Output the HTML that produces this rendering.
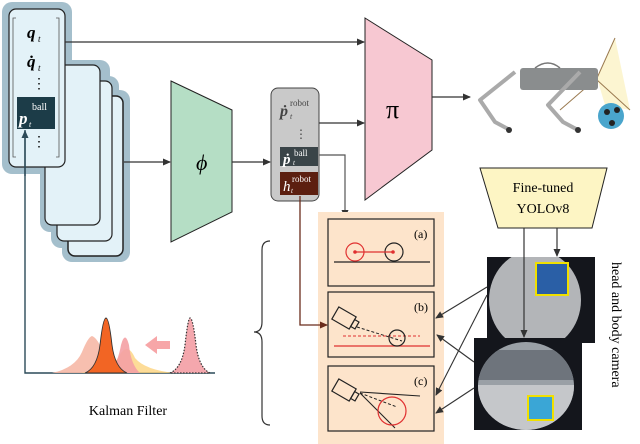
<!DOCTYPE html>
<html><head><meta charset="utf-8"><style>
html,body{margin:0;padding:0;background:#fff}
svg{display:block}
text{font-family:"Liberation Serif",serif}
</style></head><body>
<svg width="640" height="444" viewBox="0 0 640 444" xmlns="http://www.w3.org/2000/svg">
<defs>
<marker id="ar" markerWidth="8" markerHeight="8" refX="7" refY="4" orient="auto" markerUnits="userSpaceOnUse"><path d="M0,0.5 L8,4 L0,7.5 Z" fill="#333"/></marker>
<marker id="arb" markerWidth="8" markerHeight="8" refX="7" refY="4" orient="auto" markerUnits="userSpaceOnUse"><path d="M0,0.5 L8,4 L0,7.5 Z" fill="#6b2c1c"/></marker>
<marker id="art" markerWidth="8" markerHeight="8" refX="7" refY="4" orient="auto" markerUnits="userSpaceOnUse"><path d="M0,0.5 L8,4 L0,7.5 Z" fill="#2c4a58"/></marker>
<clipPath id="c1"><rect x="487" y="257" width="108" height="86"/></clipPath>
<clipPath id="c2"><ellipse cx="526" cy="386" rx="48" ry="44"/></clipPath>
</defs>
<rect x="2" y="2" width="70" height="172" rx="10" fill="#a4bfcc"/>
<rect x="40" y="60" width="70" height="172" rx="10" fill="#a4bfcc"/>
<rect x="51" y="76" width="68" height="172" rx="10" fill="#a4bfcc"/>
<rect x="62" y="90" width="68" height="172" rx="10" fill="#a4bfcc"/>
<rect x="68" y="96" width="55" height="160" rx="7" fill="#e3f2f8" stroke="#222" stroke-width="1.5"/>
<rect x="57" y="81" width="55" height="160" rx="7" fill="#e3f2f8" stroke="#222" stroke-width="1.2"/>
<rect x="45" y="65" width="55" height="160" rx="7" fill="#e3f2f8" stroke="#222" stroke-width="1.2"/>
<rect x="9" y="9" width="56" height="158" rx="7" fill="#e3f2f8" stroke="#222" stroke-width="1.2"/>
<path d="M16,18 H13 V157 H16 M56,18 H59 V157 H56" fill="none" stroke="#555" stroke-width="0.8"/>
<text x="27" y="38" font-size="17" font-weight="bold" font-style="italic">q</text><text x="38" y="42" font-size="9" font-style="italic">t</text>
<text x="27" y="67" font-size="17" font-weight="bold" font-style="italic">q̇</text><text x="38" y="71" font-size="9" font-style="italic">t</text>
<text x="32" y="88" font-size="14">⋮</text>
<rect x="17" y="97" width="38" height="32" fill="#1c3c48"/>
<text x="19" y="124" font-size="17" font-weight="bold" font-style="italic" fill="#fff">p</text><text x="29" y="127" font-size="8" fill="#fff" font-style="italic">t</text>
<text x="32" y="110" font-size="10" fill="#fff">ball</text>
<text x="32" y="146" font-size="14">⋮</text>
<line x1="65" y1="42" x2="364" y2="42" stroke="#333" stroke-width="1.3" marker-end="url(#ar)"/>
<line x1="124" y1="162" x2="170" y2="162" stroke="#333" stroke-width="1.3" marker-end="url(#ar)"/>
<polygon points="171,81 232,110 232,212 171,242" fill="#b5dec5" stroke="#222" stroke-width="1"/>
<text x="196" y="170" font-size="22" font-style="italic">ϕ</text>
<line x1="232" y1="162" x2="270" y2="162" stroke="#333" stroke-width="1.3" marker-end="url(#ar)"/>
<rect x="271" y="88" width="48" height="113" rx="7" fill="#c9c9c9" stroke="#444" stroke-width="1"/>
<text x="280" y="116" font-size="16" font-weight="bold" font-style="italic" fill="#444">ṗ</text><text x="290" y="106" font-size="9" fill="#444">robot</text><text x="290" y="119" font-size="8" fill="#444" font-style="italic">t</text>
<text x="295" y="138" font-size="12" fill="#444">⋮</text>
<rect x="280" y="147" width="38" height="19" fill="#3a4448"/>
<text x="283" y="164" font-size="15" font-weight="bold" font-style="italic" fill="#fff">ṗ</text><text x="294" y="156" font-size="9" fill="#fff">ball</text><text x="293" y="165" font-size="7" fill="#fff" font-style="italic">t</text>
<rect x="280" y="172" width="38" height="23" fill="#5c1f10"/>
<text x="283" y="191" font-size="15" font-style="italic" fill="#fff">h</text><text x="292" y="182" font-size="9" fill="#fff">robot</text><text x="291" y="193" font-size="7" fill="#fff" font-style="italic">t</text>
<line x1="319" y1="123" x2="364" y2="123" stroke="#333" stroke-width="1.3" marker-end="url(#ar)"/>
<polyline points="319,155 345,155 345,217" fill="none" stroke="#555" stroke-width="1.2" marker-end="url(#ar)"/>
<polygon points="365,18 432,60 432,150 365,200" fill="#f7c8d2" stroke="#222" stroke-width="1"/>
<text x="386" y="118" font-size="26">π</text>
<line x1="432" y1="97" x2="470" y2="97" stroke="#333" stroke-width="1.3" marker-end="url(#ar)"/>
<polygon points="597,78 615,38 630,110 605,105" fill="#fbf3c6" opacity="0.8"/>
<path d="M597,78 L615,38 M597,78 L560,110 M597,80 L630,110" stroke="#9a7a50" stroke-width="1"/>
<rect x="520" y="68" width="78" height="22" rx="3" fill="#8a8d8e"/>
<path d="M535,68 Q548,58 560,68" fill="none" stroke="#777" stroke-width="1.5"/>
<path d="M515,72 L480,100 L495,122 L510,130 M580,72 L548,105 L563,122 L578,130" fill="none" stroke="#aaa" stroke-width="4" stroke-linejoin="round"/>
<circle cx="509" cy="130" r="3" fill="#333"/><circle cx="578" cy="130" r="3" fill="#333"/>
<circle cx="611" cy="116" r="13" fill="#4aa5cc"/>
<circle cx="607" cy="112" r="3" fill="#222"/><circle cx="617" cy="110" r="3" fill="#222"/><circle cx="612" cy="123" r="3" fill="#222"/>
<polygon points="480,168 607,168 592,228 498,228" fill="#fdf5c4" stroke="#222" stroke-width="1"/>
<text x="543" y="192" font-size="14" text-anchor="middle">Fine-tuned</text>
<text x="543" y="213" font-size="14" text-anchor="middle">YOLOv8</text>
<line x1="557" y1="228" x2="557" y2="256" stroke="#333" stroke-width="1.2" marker-end="url(#ar)"/>
<rect x="487" y="257" width="108" height="86" fill="#14161c"/>
<g clip-path="url(#c1)"><ellipse cx="535" cy="300" rx="46" ry="50" fill="#b3b5b8"/></g>
<rect x="536" y="263" width="32" height="32" fill="#2a5fa6" stroke="#f0e000" stroke-width="2"/>
<line x1="524" y1="228" x2="524" y2="337" stroke="#333" stroke-width="1.2" marker-end="url(#ar)"/>
<rect x="474" y="338" width="108" height="92" fill="#14161c"/>
<g clip-path="url(#c2)"><rect x="474" y="338" width="108" height="92" fill="#9aa0a6"/>
<rect x="474" y="350" width="108" height="30" fill="#6e747c"/>
<rect x="474" y="385" width="108" height="45" fill="#c5c7ca"/></g>
<rect x="528" y="396" width="25" height="24" fill="#3aa6d6" stroke="#f0e000" stroke-width="2"/>
<rect x="318" y="212" width="126" height="232" fill="#fde4cb"/>
<rect x="328" y="219" width="106" height="67" fill="#fde4cb" stroke="#222" stroke-width="1.2"/>
<rect x="328" y="292" width="106" height="65" fill="#fde4cb" stroke="#222" stroke-width="1.2"/>
<rect x="328" y="366" width="106" height="65" fill="#fde4cb" stroke="#222" stroke-width="1.2"/>
<text x="414" y="238" font-size="12">(a)</text>
<text x="414" y="311" font-size="12">(b)</text>
<text x="414" y="385" font-size="12">(c)</text>
<line x1="334" y1="262" x2="430" y2="262" stroke="#222" stroke-width="1.2"/>
<circle cx="355" cy="252" r="9" fill="none" stroke="#e03030" stroke-width="1.2"/>
<circle cx="394" cy="252" r="9" fill="none" stroke="#222" stroke-width="1.2"/>
<line x1="355" y1="252" x2="393" y2="252" stroke="#e03030" stroke-width="1.2"/>
<circle cx="355" cy="252" r="1.8" fill="#e03030"/><circle cx="393" cy="252" r="1.8" fill="#e03030"/>
<g transform="translate(344,318) rotate(30)"><rect x="-10" y="-7" width="20" height="14" fill="none" stroke="#222" stroke-width="1.2"/><rect x="10" y="-4" width="5" height="8" fill="none" stroke="#222" stroke-width="1.2"/></g>
<line x1="357" y1="327" x2="402" y2="341" stroke="#222" stroke-width="1" stroke-dasharray="3,2"/>
<line x1="343" y1="336" x2="420" y2="336" stroke="#e03030" stroke-width="1" stroke-dasharray="3,2"/>
<line x1="334" y1="346" x2="430" y2="346" stroke="#e03030" stroke-width="1.2"/>
<circle cx="397" cy="338" r="8" fill="none" stroke="#222" stroke-width="1.2"/>
<g transform="translate(344,390) rotate(30)"><rect x="-10" y="-7" width="20" height="14" fill="none" stroke="#222" stroke-width="1.2"/><rect x="10" y="-4" width="5" height="8" fill="none" stroke="#222" stroke-width="1.2"/></g>
<line x1="360" y1="392" x2="420" y2="396" stroke="#222" stroke-width="1.1"/>
<line x1="360" y1="393" x2="395" y2="428" stroke="#222" stroke-width="1.1"/>
<line x1="360" y1="393" x2="397" y2="407" stroke="#222" stroke-width="1" stroke-dasharray="3,2"/>
<circle cx="392" cy="411" r="14" fill="none" stroke="#e03030" stroke-width="1.2"/>
<g stroke="#333" stroke-width="1.1" fill="none" marker-end="url(#ar)">
<line x1="487" y1="287" x2="436" y2="318"/>
<line x1="487" y1="295" x2="436" y2="395"/>
<line x1="474" y1="362" x2="437" y2="335"/>
<line x1="474" y1="388" x2="436" y2="413"/>
</g>
<polyline points="300,196 300,325 327,325" fill="none" stroke="#6b2c1c" stroke-width="1.3" marker-end="url(#arb)"/>
<path d="M270,241 Q262,241 262,250 V322 Q262,332 254,332 Q262,332 262,342 V416 Q262,425 270,425" fill="none" stroke="#333" stroke-width="1.2"/>
<text transform="translate(612,262) rotate(90)" font-size="14">head and body camera</text>
<polyline points="25,130 25,373 215,373" fill="none" stroke="#2c4a58" stroke-width="1.4"/>
<line x1="25" y1="176" x2="25" y2="131" stroke="#2c4a58" stroke-width="1.4" marker-end="url(#art)"/>
<path d="M52,373 Q75,368 82,352 Q88,337 92,336 Q98,338 104,355 Q110,370 140,373 Z" fill="#f6b8a6" opacity="0.9"/>
<path d="M80,373 Q110,370 118,358 Q127,340 135,358 Q145,370 175,373 Z" fill="#fcd37e" opacity="0.8"/>
<path d="M110,373 Q118,362 121,345 Q125,330 129,345 Q131,365 140,373 Z" fill="#f4a0a4" opacity="0.9"/>
<path d="M85,373 Q97,368 100,345 Q103,318 106,318 Q109,318 112,345 Q115,368 127,373 Z" fill="#f26524" stroke="#333" stroke-width="0.9"/>
<path d="M170,373 Q182,368 185,345 Q188,318 190,318 Q193,318 196,345 Q199,368 210,373 Z" fill="#f4a7ad" stroke="#333" stroke-width="1.2" stroke-dasharray="1.5,1.5"/>
<polygon points="145,345 157,336 157,341 170,341 170,349 157,349 157,354" fill="#f7a6a8"/>
<text x="128" y="415" font-size="14" text-anchor="middle">Kalman Filter</text>
</svg>
</body></html>
